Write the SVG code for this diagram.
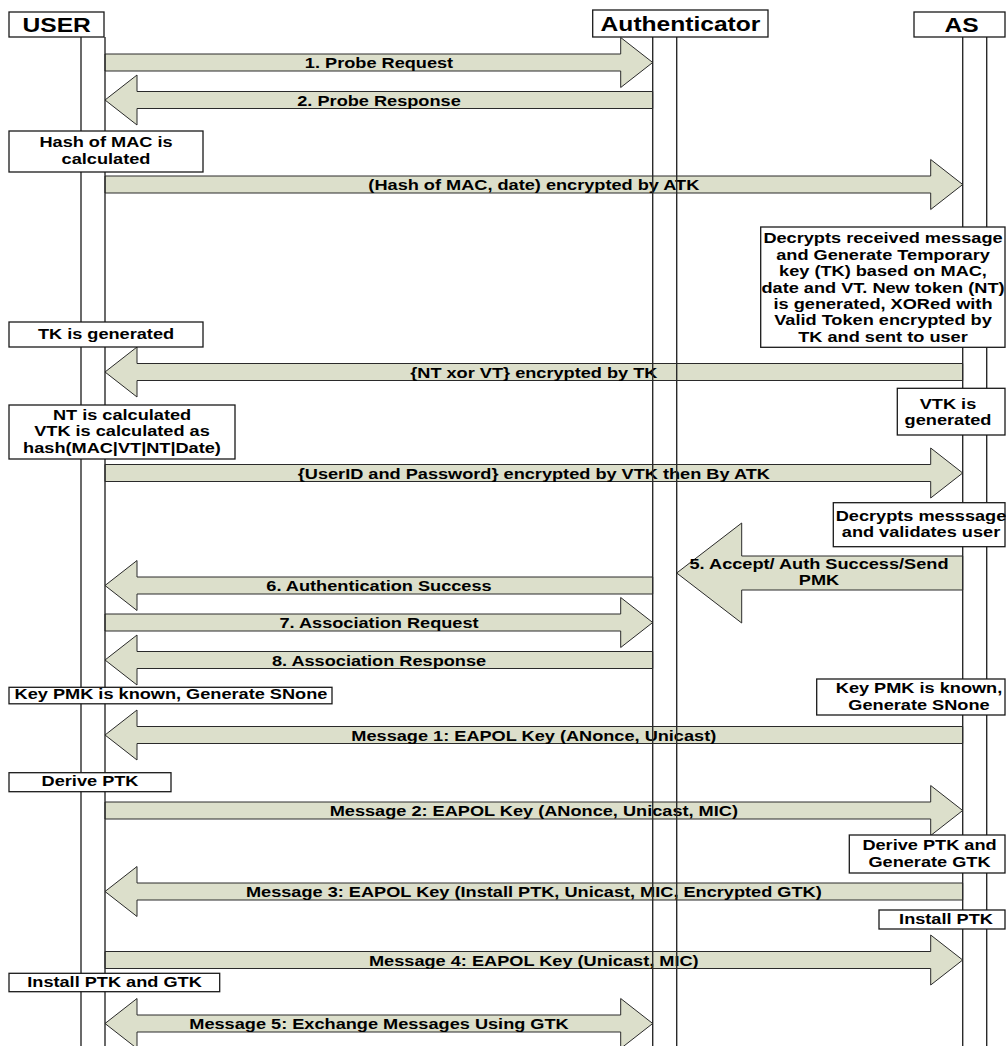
<svg xmlns="http://www.w3.org/2000/svg" width="1006" height="1046" viewBox="0 0 1006 1046">
<style>
.bg{fill:#ffffff}
.arrow{fill:#dcdfcb;stroke:#2a2a2a;stroke-width:1;stroke-linejoin:miter}
.life{stroke:#2a2a2a;stroke-width:1.4;fill:none}
.box{fill:#ffffff;stroke:#1a1a1a;stroke-width:1.3}
.t{font-family:"Liberation Sans",Arial,sans-serif;font-weight:bold;font-size:15.4px;fill:#000;text-anchor:middle}
.h{font-family:"Liberation Sans",Arial,sans-serif;font-weight:bold;font-size:20.5px;fill:#000;text-anchor:middle}
</style>
<rect class="bg" x="0" y="0" width="1006" height="1046"/>

<g id="connectors">
  <g id="m1"><polygon class="arrow" points="105,54 620.7,54 620.7,37.5 652.7,62.5 620.7,87.5 620.7,71 105,71"/>
    <text class="t" transform="translate(379 68) scale(1.18 1)">1. Probe Request</text></g>
  <g id="m2"><polygon class="arrow" points="652.7,91.5 137,91.5 137,75 105,100 137,125 137,108.5 652.7,108.5"/>
    <text class="t" transform="translate(379 105.5) scale(1.18 1)">2. Probe Response</text></g>
  <g id="m3"><polygon class="arrow" points="105,176 930.7,176 930.7,159.5 962.7,184.5 930.7,209.5 930.7,193 105,193"/>
    <text class="t" transform="translate(533.8 190) scale(1.18 1)">(Hash of MAC, date) encrypted by ATK</text></g>
  <g id="m4"><polygon class="arrow" points="962.7,363.5 137,363.5 137,347 105,372 137,397 137,380.5 962.7,380.5"/>
    <text class="t" transform="translate(533.8 377.5) scale(1.18 1)">{NT xor VT} encrypted by TK</text></g>
  <g id="m5"><polygon class="arrow" points="105,464.5 930.7,464.5 930.7,448 962.7,473 930.7,498 930.7,481.5 105,481.5"/>
    <text class="t" transform="translate(533.8 478.5) scale(1.18 1)">{UserID and Password} encrypted by VTK then By ATK</text></g>
  <g id="m6"><polygon class="arrow" points="962.7,556 741.7,556 741.7,523 676.7,573 741.7,623 741.7,590 962.7,590"/>
    <text class="t" transform="translate(819 568.5) scale(1.18 1)">5. Accept/ Auth Success/Send</text>
    <text class="t" transform="translate(819 584.5) scale(1.18 1)">PMK</text></g>
  <g id="m7"><polygon class="arrow" points="652.7,577 137,577 137,560.5 105,585.5 137,610.5 137,594 652.7,594"/>
    <text class="t" transform="translate(379 591) scale(1.18 1)">6. Authentication Success</text></g>
  <g id="m8"><polygon class="arrow" points="105,614 620.7,614 620.7,597.5 652.7,622.5 620.7,647.5 620.7,631 105,631"/>
    <text class="t" transform="translate(379 628) scale(1.18 1)">7. Association Request</text></g>
  <g id="m9"><polygon class="arrow" points="652.7,651.5 137,651.5 137,635 105,660 137,685 137,668.5 652.7,668.5"/>
    <text class="t" transform="translate(379 665.5) scale(1.18 1)">8. Association Response</text></g>
  <g id="m10"><polygon class="arrow" points="962.7,726.5 137,726.5 137,710 105,735 137,760 137,743.5 962.7,743.5"/>
    <text class="t" transform="translate(533.8 740.5) scale(1.18 1)">Message 1: EAPOL Key (ANonce, Unicast)</text></g>
  <g id="m11"><polygon class="arrow" points="105,802 930.7,802 930.7,785.5 962.7,810.5 930.7,835.5 930.7,819 105,819"/>
    <text class="t" transform="translate(533.8 816) scale(1.18 1)">Message 2: EAPOL Key (ANonce, Unicast, MIC)</text></g>
  <g id="m12"><polygon class="arrow" points="962.7,883 137,883 137,866.5 105,891.5 137,916.5 137,900 962.7,900"/>
    <text class="t" transform="translate(533.8 897) scale(1.18 1)">Message 3: EAPOL Key (Install PTK, Unicast, MIC, Encrypted GTK)</text></g>
  <g id="m13"><polygon class="arrow" points="105,951.5 930.7,951.5 930.7,935 962.7,960 930.7,985 930.7,968.5 105,968.5"/>
    <text class="t" transform="translate(533.8 966) scale(1.18 1)">Message 4: EAPOL Key (Unicast, MIC)</text></g>
  <g id="m14"><polygon class="arrow" points="105,1023.5 137,998.5 137,1015 620.7,1015 620.7,998.5 652.7,1023.5 620.7,1048.5 620.7,1032 137,1032 137,1048.5"/>
    <text class="t" transform="translate(379 1029) scale(1.18 1)">Message 5: Exchange Messages Using GTK</text></g>
</g>

<g id="user">
  <line class="life" x1="81" y1="37" x2="81" y2="1046"/>
  <line class="life" x1="105" y1="37" x2="105" y2="1046"/>
  <rect class="box" x="9" y="12" width="95" height="25"/>
  <text class="h" transform="translate(56.7 31.5) scale(1.2 1)">USER</text>
</g>
<g id="authenticator">
  <line class="life" x1="652.7" y1="37" x2="652.7" y2="1046"/>
  <line class="life" x1="676.7" y1="37" x2="676.7" y2="1046"/>
  <rect class="box" x="592.7" y="10" width="175.3" height="27"/>
  <text class="h" transform="translate(680.5 30.5) scale(1.2 1)">Authenticator</text>
</g>
<g id="as">
  <line class="life" x1="962.7" y1="37" x2="962.7" y2="1046"/>
  <line class="life" x1="986.7" y1="37" x2="986.7" y2="1046"/>
  <rect class="box" x="914" y="12" width="91" height="25"/>
  <text class="h" transform="translate(961.5 31.5) scale(1.2 1)">AS</text>
</g>

<g id="note-hash">
  <rect class="box" x="9" y="131" width="194" height="41"/>
  <text class="t" transform="translate(106 147.3) scale(1.18 1)">Hash of MAC is</text>
  <text class="t" transform="translate(106 163.8) scale(1.18 1)">calculated</text>
</g>
<g id="note-decrypt">
  <rect class="box" x="760.7" y="227" width="244.3" height="120.3"/>
  <text class="t" transform="translate(883 243.3) scale(1.18 1)">Decrypts received message</text>
  <text class="t" transform="translate(883 259.7) scale(1.18 1)">and Generate Temporary</text>
  <text class="t" transform="translate(883 276.1) scale(1.18 1)">key (TK) based on MAC,</text>
  <text class="t" transform="translate(883 292.5) scale(1.18 1)">date and VT. New token (NT)</text>
  <text class="t" transform="translate(883 308.9) scale(1.18 1)">is generated, XORed with</text>
  <text class="t" transform="translate(883 325.3) scale(1.18 1)">Valid Token encrypted by</text>
  <text class="t" transform="translate(883 341.7) scale(1.18 1)">TK and sent to user</text>
</g>
<g id="note-tk">
  <rect class="box" x="9" y="322" width="194" height="25"/>
  <text class="t" transform="translate(106 339) scale(1.18 1)">TK is generated</text>
</g>
<g id="note-vtk">
  <rect class="box" x="897.3" y="388.3" width="107.7" height="46.7"/>
  <text class="t" transform="translate(948 408.5) scale(1.18 1)">VTK is</text>
  <text class="t" transform="translate(948 425) scale(1.18 1)">generated</text>
</g>
<g id="note-nt">
  <rect class="box" x="9" y="405" width="226" height="54"/>
  <text class="t" transform="translate(122 419.5) scale(1.18 1)">NT is calculated</text>
  <text class="t" transform="translate(122 436) scale(1.18 1)">VTK is calculated as</text>
  <text class="t" transform="translate(122 452.5) scale(1.18 1)">hash(MAC|VT|NT|Date)</text>
</g>
<g id="note-validate">
  <rect class="box" x="833.3" y="502.7" width="171.7" height="44"/>
  <text class="t" transform="translate(921 520.7) scale(1.18 1)">Decrypts messsage</text>
  <text class="t" transform="translate(921 537.3) scale(1.18 1)">and validates user</text>
</g>
<g id="note-pmk-user">
  <rect class="box" x="9" y="687.3" width="323" height="16.5"/>
  <text class="t" transform="translate(171 698.6) scale(1.18 1)">Key PMK is known, Generate SNone</text>
</g>
<g id="note-pmk-as">
  <rect class="box" x="816.7" y="679" width="188.3" height="36"/>
  <text class="t" transform="translate(919 693.3) scale(1.18 1)">Key PMK is known,</text>
  <text class="t" transform="translate(919 709.5) scale(1.18 1)">Generate SNone</text>
</g>
<g id="note-derive-user">
  <rect class="box" x="9" y="772.7" width="162" height="19"/>
  <text class="t" transform="translate(90 786) scale(1.18 1)">Derive PTK</text>
</g>
<g id="note-derive-as">
  <rect class="box" x="849.3" y="835" width="155.7" height="38"/>
  <text class="t" transform="translate(929.5 850) scale(1.18 1)">Derive PTK and</text>
  <text class="t" transform="translate(929.5 866.7) scale(1.18 1)">Generate GTK</text>
</g>
<g id="note-install-as">
  <rect class="box" x="879" y="910" width="126" height="19"/>
  <text class="t" transform="translate(946 924) scale(1.18 1)">Install PTK</text>
</g>
<g id="note-install-user">
  <rect class="box" x="9" y="973.3" width="210.7" height="18.4"/>
  <text class="t" transform="translate(114.5 987.3) scale(1.18 1)">Install PTK and GTK</text>
</g>
</svg>
